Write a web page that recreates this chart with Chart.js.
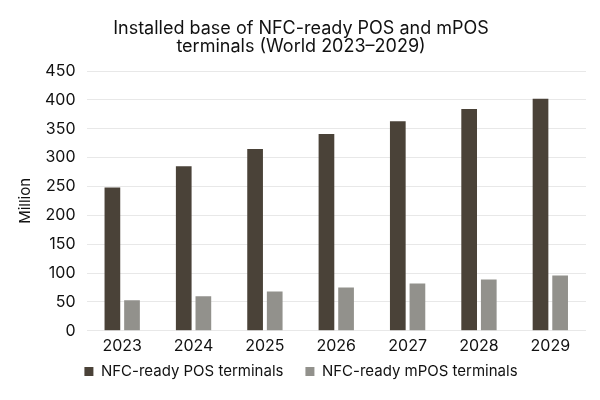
<!DOCTYPE html>
<html>
<head>
<meta charset="utf-8">
<script src="https://cdn.jsdelivr.net/npm/chart.js@4"></script>
<style>
  html, body { margin: 0; padding: 0; background: #fff; }
  #wrap { width: 600px; height: 400px; }
</style>
</head>
<body>
<div id="wrap"><canvas id="chart"></canvas></div>
<script>
/* ── Data ───────────────────────────────────────────── */
const years = ['2023', '2024', '2025', '2026', '2027', '2028', '2029'];
const posTerminals  = [248, 285, 315, 341, 363, 384, 402];
const mposTerminals = [53, 60, 68, 75, 82, 89, 96];
const seriesNames = ['NFC-ready POS terminals', 'NFC-ready mPOS terminals'];
const titleLines = ['Installed base of NFC-ready POS and mPOS', 'terminals (World 2023\u20132029)'];

const FONT = 'Inter, "Noto Sans", sans-serif';
const TEXT = '#111';

/* ── Legend: wide gap between items, but sit close under the axis ── */
const legendSnug = {
  id: 'legendSnug',
  beforeInit(chart) {
    const fit = chart.legend.fit;
    chart.legend.fit = function () { fit.call(this); this.height = 38; };
  },
  afterLayout(chart) {
    chart.legend.top -= 20;
  },
};

new Chart(document.getElementById('chart'), {
  type: 'bar',
  data: {
    labels: years,
    datasets: [
      { label: seriesNames[0], data: posTerminals,  backgroundColor: '#4a4238' },
      { label: seriesNames[1], data: mposTerminals, backgroundColor: '#92918c' },
    ],
  },
  options: {
    responsive: true,
    maintainAspectRatio: false,
    animation: false,
    layout: { padding: { left: 16, right: 14, top: 0, bottom: 0 } },
    datasets: { bar: { categoryPercentage: 0.55, barPercentage: 0.8 } },
    plugins: {
      title: {
        display: true,
        text: titleLines,
        color: TEXT,
        font: { family: FONT, size: 18, weight: 'normal', lineHeight: 1.0 },
        padding: { top: 20, bottom: 15 },
      },
      legend: {
        position: 'bottom',
        labels: {
          color: TEXT,
          font: { family: FONT, size: 15 },
          usePointStyle: true,
          pointStyle: 'rect',
          boxWidth: 9,
          boxHeight: 9,
          padding: 22,
        },
      },
      tooltip: { enabled: false },
    },
    scales: {
      x: {
        grid: { display: false, drawTicks: false },
        border: { display: false },
        ticks: { color: TEXT, font: { family: FONT, size: 16 }, padding: 6 },
      },
      y: {
        min: 0,
        max: 450,
        ticks: { stepSize: 50, color: TEXT, font: { family: FONT, size: 16 }, padding: 11 },
        grid: { color: '#e8e8e8', drawTicks: false },
        border: { display: false },
        title: { display: true, text: 'Million', color: TEXT, font: { family: FONT, size: 15 }, padding: 0 },
      },
    },
  },
  plugins: [legendSnug],
});
</script>
</body>
</html>
